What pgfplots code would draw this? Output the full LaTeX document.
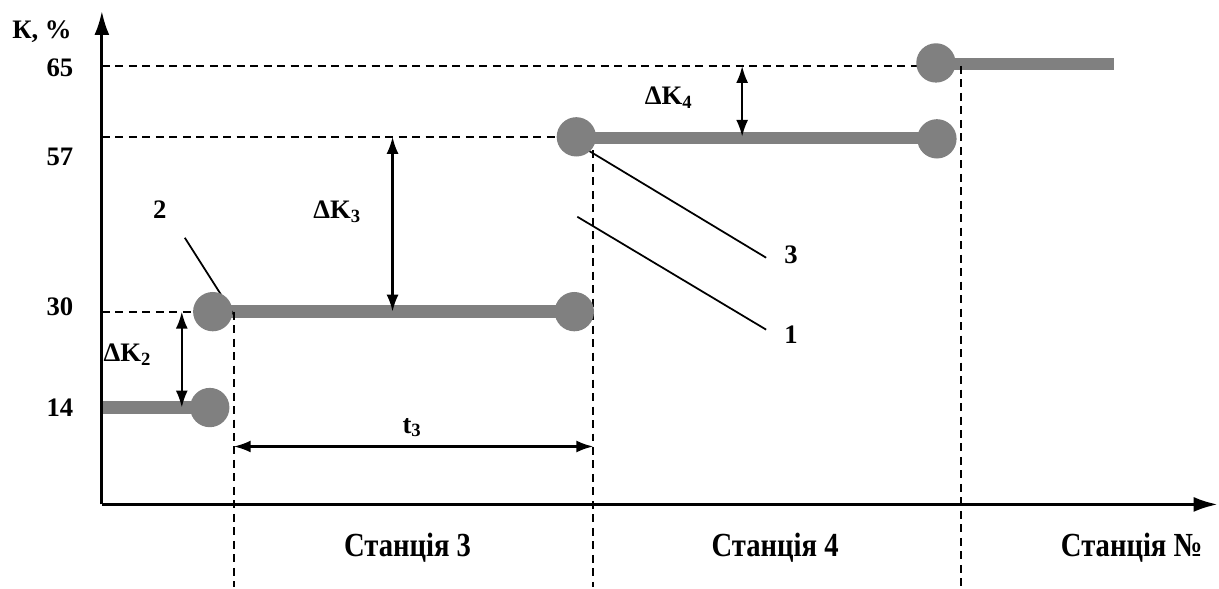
\documentclass[border=0pt]{standalone}
\usepackage{pgfplots}
\pgfplotsset{compat=1.18}
\usetikzlibrary{arrows.meta}
\usepackage{fontspec}
\setmainfont{Liberation Serif}
\definecolor{stepgray}{RGB}{128,128,128}

% coordinates are laid out on a 1219 x 588 grid (schematic chart)
\begin{document}
\begin{tikzpicture}
\begin{axis}[
  width=121.9mm, height=58.8mm, scale only axis,
  xmin=0, xmax=1219, ymin=0, ymax=588,
  hide axis, clip=false,
  ]
  \path (axis cs:0,0) rectangle (axis cs:1219,588);

  % steps of K
  \addplot[stepgray, line width=3.6pt] coordinates {(102,180)(210,180)};
  \addplot[stepgray, line width=3.6pt] coordinates {(213,276)(575,276)};
  \addplot[stepgray, line width=3.6pt] coordinates {(577,450)(938,450)};
  \addplot[stepgray, line width=3.6pt] coordinates {(937,524)(1115,524)};
  \addplot[only marks, mark=*, mark size=5.4pt, stepgray,
    mark options={draw=stepgray, fill=stepgray}]
    coordinates {(210,180)(213,276)(575,276)(577,451)(938,449)(937,525)};

  % axes
  \draw[line width=0.8pt, -{Latex[length=2.4mm,width=1.5mm]}]
    (axis cs:102,83) -- (axis cs:102,577);
  \draw[line width=0.8pt, -{Latex[length=2.4mm,width=1.5mm]}]
    (axis cs:102,83) -- (axis cs:1219,83);

  % dashed guides
  \begin{scope}[line width=0.6pt, dash pattern=on 0.8mm off 0.55mm]
    \draw (axis cs:102,276) -- (axis cs:195,276);
    \draw (axis cs:102,451) -- (axis cs:560,451);
    \draw (axis cs:102,522) -- (axis cs:920,522);
    \draw (axis cs:234,276) -- (axis cs:234,0);
    \draw (axis cs:594,451) -- (axis cs:594,0);
    \draw (axis cs:962,522) -- (axis cs:962,0);
  \end{scope}

  % dimension arrows
  \begin{scope}[line width=0.65pt, {Latex[length=1.7mm,width=1.2mm]}-{Latex[length=1.7mm,width=1.2mm]}]
    \draw (axis cs:182,276) -- (axis cs:182,180);
    \draw (axis cs:393,451) -- (axis cs:393,276);
    \draw (axis cs:743,522) -- (axis cs:743,451);
    \draw (axis cs:234,141) -- (axis cs:594,141);
  \end{scope}

  % leader lines
  \draw[line width=0.5pt] (axis cs:185,350) -- (axis cs:234,273);
  \draw[line width=0.5pt] (axis cs:578,444) -- (axis cs:767,330);
  \draw[line width=0.5pt] (axis cs:578,371) -- (axis cs:767,258);

  \begin{scope}[font=\fontsize{7.6}{9}\selectfont\bfseries]
    \node at (axis cs:42,556) {К, \%};
    \node at (axis cs:60,520) {65};
    \node at (axis cs:60,431) {57};
    \node at (axis cs:60,281) {30};
    \node at (axis cs:60,180) {14};
    \node at (axis cs:128,233) {ΔK$_{\mathbf 2}$};
    \node at (axis cs:338,376) {ΔK$_{\mathbf 3}$};
    \node at (axis cs:670,490) {ΔK$_{\mathbf 4}$};
    \node at (axis cs:413,160) {t$_{\mathbf 3}$};
    \node at (axis cs:160,378) {2};
    \node at (axis cs:792,333) {3};
    \node at (axis cs:792,253) {1};
  \end{scope}
  \begin{scope}[font=\fontsize{9.6}{11}\selectfont\bfseries]
    \node at (axis cs:408,40) {\scalebox{0.85}[1]{Станція 3}};
    \node at (axis cs:776,40) {\scalebox{0.85}[1]{Станція 4}};
    \node at (axis cs:1133,40) {\scalebox{0.85}[1]{Станція №}};
  \end{scope}
\end{axis}
\end{tikzpicture}
\end{document}
